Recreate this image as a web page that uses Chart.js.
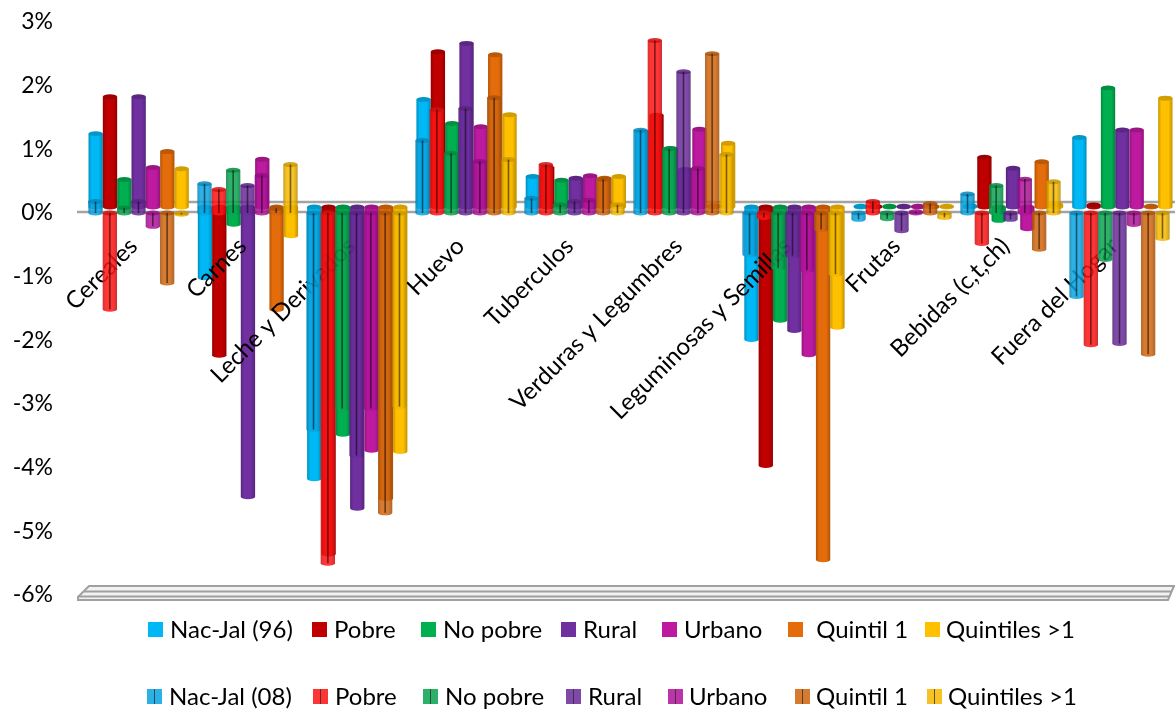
<!DOCTYPE html>
<html lang="es">
<head>
<meta charset="utf-8">
<title>Variación del gasto por grupo de alimentos</title>
<script src="https://cdn.jsdelivr.net/npm/chart.js@4"></script>
<style>
    html, body { margin: 0; padding: 0; background: #fff; overflow: hidden; }
    #wrap { position: relative; width: 1175px; height: 709px; font-family: Lato, "Open Sans", sans-serif; }
    #chart { position: absolute; left: 0; top: 0; }
    .key { position: absolute; display: block; width: 15px; height: 15px; }
    .key i { position: absolute; left: 7px; top: 0; width: 1px; height: 15px; background: rgba(0, 0, 0, 0.7); }
    .key-text { position: absolute; font-size: 24px; line-height: 28px; color: #000; white-space: pre; }
</style>
</head>
<body>
<div id="wrap">
    <canvas id="chart" width="1175" height="709"></canvas>
</div>
<script>
const categories = ['Cereales', 'Carnes', 'Leche y Derivados', 'Huevo', 'Tuberculos', 'Verduras y Legumbres',
    'Leguminosas y Semillas', 'Frutas', 'Bebidas (c,t,ch)', 'Fuera del Hogar'];

// 1996 series
const nacJal96 = [1.15, -1.11, -4.27, 1.69, 0.48, 1.18, -2.08, 0.01, 0.02, 1.09];
const pobre96 = [1.73, -2.33, -5.45, 2.44, 0.62, 1.44, -4.06, 0.01, 0.78, 0.03];
const noPobre96 = [0.43, -0.27, -3.57, 1.31, 0.42, 0.92, -1.78, 0.01, -0.21, 1.87];
const rural96 = [1.73, -4.55, -4.73, 2.57, 0.45, 0.59, -1.94, 0.01, 0.61, 1.21];
const urbano96 = [0.62, 0.75, -3.82, 1.26, 0.49, 1.22, -2.32, 0.01, -0.34, 1.21];
const quintil96 = [0.87, -1.61, -4.58, 2.39, 0.45, 0.02, -5.54, 0.01, 0.71, 0.01];
const quintiles96 = [0.60, -0.45, -3.84, 1.45, 0.48, 1.00, -1.89, 0.01, 0.04, 1.71];

// 2008 series
const nacJal08 = [0.18, 0.46, -3.40, 1.14, 0.23, 1.30, -0.65, -0.10, 0.30, -1.31];
const pobre08 = [-1.51, 0.37, -5.50, 1.62, 0.76, 2.71, -0.07, 0.18, -0.48, -2.07];
const noPobre08 = [0.08, 0.67, -3.07, 0.94, 0.13, 1.01, -0.86, -0.09, 0.43, -0.73];
const rural08 = [0.18, 0.43, -3.81, 1.64, 0.18, 2.22, -0.67, -0.28, -0.10, -2.05];
const urbano08 = [-0.21, 0.59, -3.07, 0.81, 0.20, 0.70, -0.90, 0.02, 0.53, -0.18];
const quintil08 = [-1.10, 0.07, -4.71, 1.81, 0.53, 2.50, -0.26, 0.15, -0.57, -2.22];
const quintiles08 = [-0.02, 0.76, -3.04, 0.84, 0.13, 0.92, -0.96, -0.07, 0.49, -0.40];

const labels96 = ['Nac-Jal (96)', 'Pobre', 'No pobre', 'Rural', 'Urbano', ' Quintil 1', 'Quintiles >1'];
const labels08 = ['Nac-Jal (08)', 'Pobre', 'No pobre', 'Rural', 'Urbano', 'Quintil 1', 'Quintiles >1'];
const values96 = [nacJal96, pobre96, noPobre96, rural96, urbano96, quintil96, quintiles96];
const values08 = [nacJal08, pobre08, noPobre08, rural08, urbano08, quintil08, quintiles08];

const colors96 = ['#00B8F5', '#C00000', '#00B050', '#7030A0', '#BE1AA0', '#E46C0A', '#FFC000'];
const colors08 = ['#0AA5E2', '#FF1414', '#0BA552', '#6A2C9A', '#B0149A', '#D0650F', '#F5B800'];

// Legend layout, one row per year
const legendRows = [
    { y: 622, labels: labels96, colors: colors96, lined: false,
      keys: [148, 312, 421, 561, 662, 788, 925], texts: [170, 334, 443, 583, 684, 810, 946] },
    { y: 689, labels: labels08, colors: colors08, lined: true,
      keys: [147, 313, 423, 566, 668, 795, 927], texts: [169, 335, 445, 588, 689, 816, 948] }
];

const SERIES_COUNT = 7;
const PLANE_BACK_Y = -6;     // the 96 bars stand further back than the 08 bars
const PLANE_BACK_X = 3;      // and drift right across the plot
const CAP_RY = 2.5;
const LINED_ALPHA = 0.86;

function shade(hex, factor) {
    const n = parseInt(hex.slice(1), 16);
    const r = Math.round((n >> 16) * factor);
    const g = Math.round(((n >> 8) & 255) * factor);
    const b = Math.round((n & 255) * factor);
    return `rgb(${r},${g},${b})`;
}

// Draw one cylinder between two pixel heights
function drawCylinder(ctx, cx, width, top, bottom, color, lined) {
    const half = width / 2;
    const left = cx - half;

    const body = ctx.createLinearGradient(left, 0, left + width, 0);
    body.addColorStop(0, shade(color, 0.78));
    body.addColorStop(0.22, color);
    body.addColorStop(0.72, color);
    body.addColorStop(1, shade(color, 0.76));

    ctx.save();
    ctx.globalAlpha = lined ? LINED_ALPHA : 1;
    ctx.fillStyle = body;
    ctx.beginPath();
    ctx.moveTo(left, top);
    ctx.lineTo(left, bottom);
    ctx.ellipse(cx, bottom, half, CAP_RY, 0, Math.PI, 0, true);
    ctx.lineTo(left + width, top);
    ctx.closePath();
    ctx.fill();

    ctx.fillStyle = shade(color, 0.82);
    ctx.beginPath();
    ctx.ellipse(cx, top, half, CAP_RY, 0, 0, Math.PI * 2);
    ctx.fill();

    if (lined) {
        ctx.strokeStyle = 'rgba(0,0,0,0.6)';
        ctx.lineWidth = 1.6;
        ctx.beginPath();
        ctx.moveTo(cx, top);
        ctx.lineTo(cx, bottom);
        ctx.stroke();
    }
    ctx.restore();
}

// Back and front axis lines plus the floor of the box
function drawBox(chart) {
    const { ctx, scales } = chart;
    const zero = scales.y.getPixelForValue(0);
    const floor = scales.y.getPixelForValue(-6);
    const right = chart.width;

    ctx.save();
    ctx.strokeStyle = '#A3A3A3';
    ctx.lineWidth = 2.4;
    ctx.beginPath();
    ctx.moveTo(88, zero - 11);
    ctx.lineTo(right, zero - 11);
    ctx.moveTo(77, zero - 1);
    ctx.lineTo(right, zero - 1);
    ctx.stroke();

    ctx.fillStyle = '#F2F2F2';
    ctx.strokeStyle = '#A0A0A0';
    ctx.lineWidth = 2;
    ctx.beginPath();
    ctx.moveTo(89, floor - 9);
    ctx.lineTo(right - 1, floor - 9);
    ctx.lineTo(right - 7, floor + 5);
    ctx.lineTo(78, floor + 5);
    ctx.lineTo(78, floor + 2);
    ctx.closePath();
    ctx.fill();
    ctx.stroke();
    ctx.beginPath();
    ctx.moveTo(84, floor - 3.5);
    ctx.lineTo(right - 3, floor - 3.5);
    ctx.moveTo(78, floor + 1.5);
    ctx.lineTo(right - 5, floor + 1.5);
    ctx.stroke();
    ctx.restore();
}

// Bars overlap per year (grouped: false), so each one is placed inside its category here
function drawPlane(chart, lined) {
    const { ctx, chartArea } = chart;
    chart.data.datasets.forEach((dataset, i) => {
        if ((i >= SERIES_COUNT) !== lined) return;
        const series = i % SERIES_COUNT;
        chart.getDatasetMeta(i).data.forEach(bar => {
            const width = bar.width / SERIES_COUNT;
            const drift = (bar.x - chartArea.left) / chartArea.width;
            const offsetX = lined ? 0 : PLANE_BACK_X * drift;
            const offsetY = lined ? 0 : PLANE_BACK_Y;
            const cx = bar.x + (series - (SERIES_COUNT - 1) / 2) * width + offsetX;
            const top = Math.min(bar.y, bar.base) + offsetY;
            const bottom = Math.max(bar.y, bar.base) + offsetY;
            drawCylinder(ctx, cx, width, top, bottom, dataset.backgroundColor, lined);
        });
    });
}

// The category labels sit between the two planes: 96 bars under the axes, 08 bars over them
const cylinderPlugin = {
    id: 'cylinders',
    beforeDraw(chart) {
        drawBox(chart);
        drawPlane(chart, false);
    },
    beforeDatasetsDraw(chart) {
        drawPlane(chart, true);
        return false;
    }
};

function buildDatasets() {
    const back = values96.map((data, i) => ({ label: labels96[i], data: data, backgroundColor: colors96[i] }));
    const front = values08.map((data, i) => ({ label: labels08[i], data: data, backgroundColor: colors08[i] }));
    return back.concat(front);
}

function buildLegend() {
    const wrap = document.getElementById('wrap');
    legendRows.forEach(row => {
        row.labels.forEach((label, i) => {
            const key = document.createElement('span');
            key.className = 'key';
            key.style.left = row.keys[i] + 'px';
            key.style.top = row.y + 'px';
            key.style.background = row.colors[i];
            if (row.lined) {
                key.style.opacity = LINED_ALPHA;
                key.appendChild(document.createElement('i'));
            }
            wrap.appendChild(key);

            const text = document.createElement('span');
            text.className = 'key-text';
            text.style.left = row.texts[i] + 'px';
            text.style.top = (row.y - 7) + 'px';
            text.textContent = label;
            wrap.appendChild(text);
        });
    });
}

// Labels may overhang the plot, the plot itself should not shrink for them
function dropPadding(scale) {
    scale.paddingTop = 0;
    scale.paddingBottom = 0;
    scale.paddingLeft = 0;
    scale.paddingRight = 0;
}

new Chart(document.getElementById('chart').getContext('2d'), {
    type: 'bar',
    data: { labels: categories, datasets: buildDatasets() },
    plugins: [cylinderPlugin],
    options: {
        responsive: false,
        animation: false,
        layout: { padding: { top: 22, right: 1, bottom: 114, left: 0 } },
        grouped: false,
        barPercentage: 1,
        categoryPercentage: 0.92,
        plugins: { legend: { display: false }, tooltip: { enabled: false } },
        scales: {
            x: {
                axis: 'x',
                type: 'category',
                position: { y: 0 },
                grid: { display: false },
                border: { display: false },
                afterFit: dropPadding,
                ticks: {
                    color: '#000',
                    font: { family: 'Lato', size: 24 },
                    autoSkip: false,
                    minRotation: 45,
                    maxRotation: 45,
                    padding: 11,
                    labelOffset: -5
                }
            },
            y: {
                min: -6,
                max: 3,
                grid: { display: false },
                border: { display: false },
                afterFit(scale) {
                    dropPadding(scale);
                    scale.width = 84;
                },
                ticks: {
                    stepSize: 1,
                    color: '#000',
                    font: { family: 'Lato', size: 23 },
                    padding: 23,
                    callback: value => value + '%'
                }
            }
        }
    }
});

buildLegend();
</script>
</body>
</html>
